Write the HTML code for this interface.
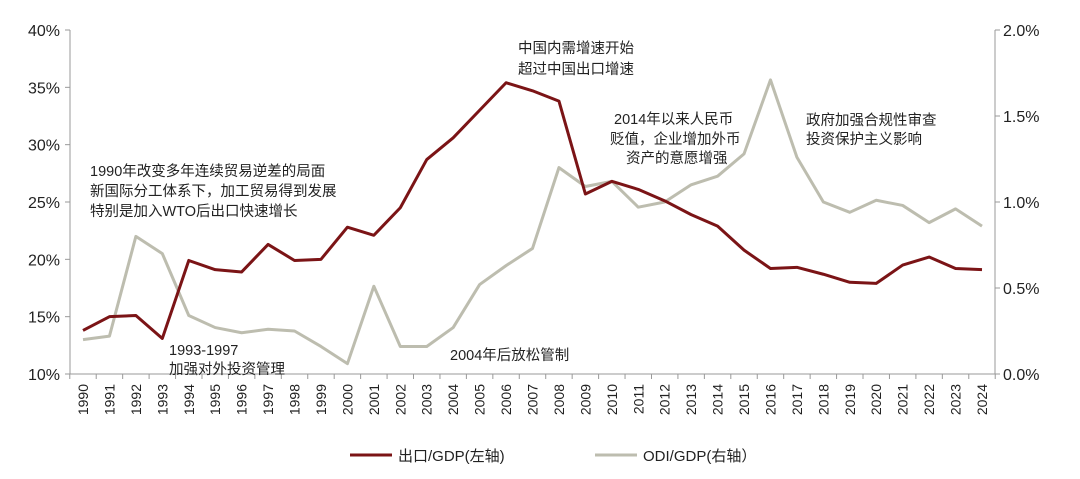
<!DOCTYPE html>
<html><head><meta charset="utf-8"><style>
body{margin:0;background:#fff;}
svg text{font-family:"Liberation Sans","Noto Sans CJK SC",sans-serif;fill:#222;}
</style></head><body>
<svg id="chart" width="1080" height="474" xmlns="http://www.w3.org/2000/svg">
<g id="axes"></g><g id="series"></g>
<g font-size="14.5">
<text x="90" y="176">1990年改变多年连续贸易逆差的局面</text>
<text x="90" y="196">新国际分工体系下，加工贸易得到发展</text>
<text x="90" y="216">特别是加入WTO后出口快速增长</text>
<text x="169" y="355">1993-1997</text>
<text x="169" y="374">加强对外投资管理</text>
<text x="450" y="360">2004年后放松管制</text>
<text x="518" y="53">中国内需增速开始</text>
<text x="518" y="74">超过中国出口增速</text>
<text x="614" y="124">2014年以来人民币</text>
<text x="610" y="144">贬值，企业增加外币</text>
<text x="626" y="163">资产的意愿增强</text>
<text x="806" y="125">政府加强合规性审查</text>
<text x="806" y="144">投资保护主义影响</text>
</g>
<g font-size="15">
<line x1="350" y1="455" x2="392" y2="455" stroke="#7b1416" stroke-width="3"/>
<text x="398" y="461">出口/GDP(左轴)</text>
<line x1="595" y1="455" x2="637" y2="455" stroke="#bdbdaf" stroke-width="3"/>
<text x="643" y="461">ODI/GDP(右轴）</text>
</g>
</svg>
<script>
const years=[1990,1991,1992,1993,1994,1995,1996,1997,1998,1999,2000,2001,2002,2003,2004,2005,2006,2007,2008,2009,2010,2011,2012,2013,2014,2015,2016,2017,2018,2019,2020,2021,2022,2023,2024];
const exportGdp=[13.8,15.0,15.1,13.1,19.9,19.1,18.9,21.3,19.9,20.0,22.8,22.1,24.5,28.7,30.6,33.0,35.4,34.7,33.8,25.7,26.8,26.1,25.1,23.9,22.9,20.8,19.2,19.3,18.7,18.0,17.9,19.5,20.2,19.2,19.1];
const odiGdp=[0.20,0.22,0.80,0.70,0.34,0.27,0.24,0.26,0.25,0.16,0.06,0.51,0.16,0.16,0.27,0.52,0.63,0.73,1.20,1.09,1.12,0.97,1.00,1.10,1.15,1.28,1.71,1.26,1.00,0.94,1.01,0.98,0.88,0.96,0.86];
const leftTicks=[10,15,20,25,30,35,40];
const rightTicks=[0,0.5,1.0,1.5,2.0];
const NS="http://www.w3.org/2000/svg";
const L=70,R=995,T=30,B=374,X0=83,X1=982;
const xs=i=>X0+(X1-X0)*i/(years.length-1);
const yl=v=>B-(v-10)/30*(B-T);
const yr=v=>B-v/2*(B-T);
function mk(tag,attrs,parent){const e=document.createElementNS(NS,tag);for(const k in attrs)e.setAttribute(k,attrs[k]);parent.appendChild(e);return e;}
const ax=document.getElementById('axes'),se=document.getElementById('series');
const la=mk('line',{x1:L,y1:T,x2:L,y2:B,stroke:'#999'},ax);


const ra=mk('line',{x1:R,y1:T,x2:R,y2:B,stroke:'#999'},ax);


const xa=mk('line',{x1:L,y1:B,x2:R,y2:B,stroke:'#999'},ax);


leftTicks.forEach(v=>{const y=yl(v);mk('line',{x1:L-5,y1:y,x2:L,y2:y,stroke:'#999'},ax);
const t=mk('text',{x:L-10,y:y+6,'text-anchor':'end','font-size':16},ax);t.textContent=v+'%';

});
rightTicks.forEach(v=>{const y=yr(v);mk('line',{x1:R,y1:y,x2:R+5,y2:y,stroke:'#999'},ax);
const t=mk('text',{x:R+8,y:y+6,'font-size':16},ax);t.textContent=v.toFixed(1)+'%';

});
const step=(X1-X0)/(years.length-1);
for(let i=0;i<=years.length;i++){const x=X0-step/2+i*step;mk('line',{x1:x,y1:B,x2:x,y2:B+5,stroke:'#999'},ax);}
years.forEach((yv,i)=>{const x=xs(i);const t=mk('text',{x:x+5,y:B+10,'font-size':14,'text-anchor':'end',transform:`rotate(-90 ${x+5} ${B+10})`},ax);t.textContent=yv;

});
const p2=mk('polyline',{points:odiGdp.map((v,i)=>xs(i)+','+yr(v)).join(' '),fill:'none',stroke:'#bdbdaf','stroke-width':3,'stroke-linejoin':'round'},se);


const p1=mk('polyline',{points:exportGdp.map((v,i)=>xs(i)+','+yl(v)).join(' '),fill:'none',stroke:'#7b1416','stroke-width':3,'stroke-linejoin':'round'},se);


</script>
</body></html>
